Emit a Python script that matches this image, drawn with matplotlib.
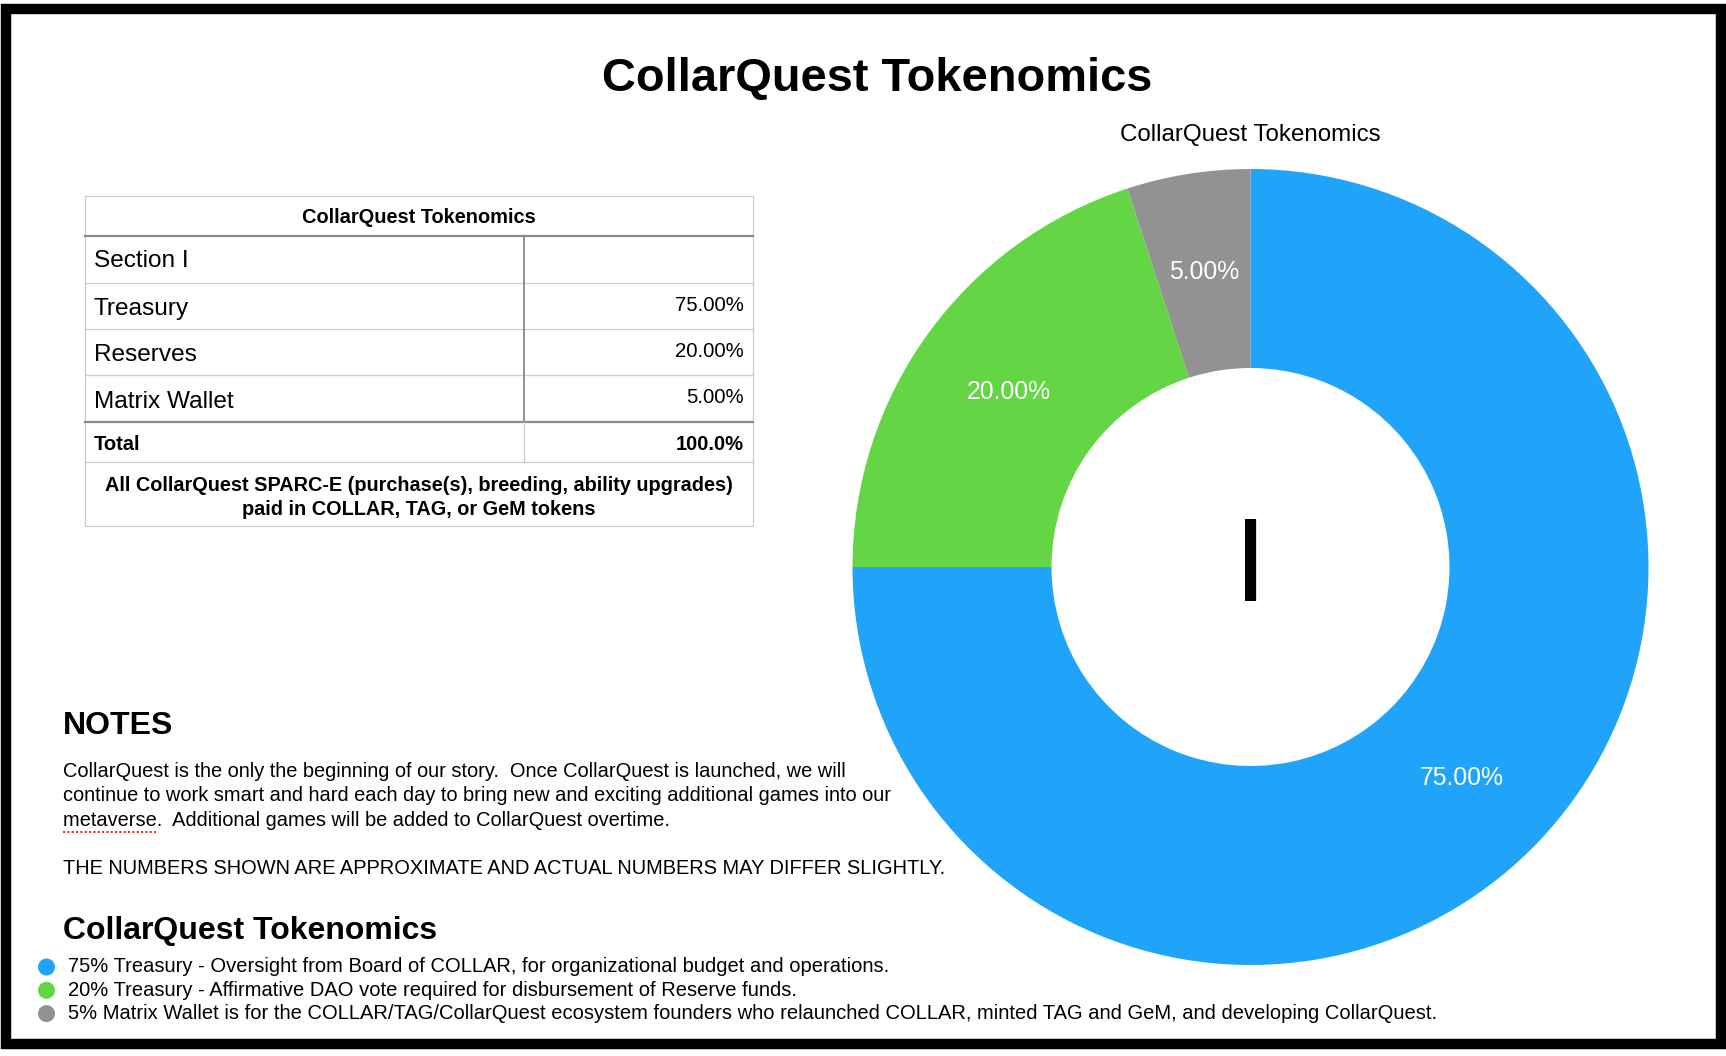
import numpy as np
import matplotlib.pyplot as plt
from matplotlib.patches import Rectangle

plt.rcParams['font.family'] = ['Liberation Sans', 'DejaVu Sans']

# Données
sections = ['Treasury', 'Reserves', 'Matrix Wallet']
shares = [75.0, 20.0, 5.0]
colors = ['#1fa4fa', '#64d645', '#929292']
chart_title = 'CollarQuest Tokenomics'
center_label = 'I'
footer_lines = ['All CollarQuest SPARC-E (purchase(s), breeding, ability upgrades)',
                'paid in COLLAR, TAG, or GeM tokens']
notes_lines = ['CollarQuest is the only the beginning of our story.  Once CollarQuest is launched, we will',
               'continue to work smart and hard each day to bring new and exciting additional games into our',
               'metaverse.  Additional games will be added to CollarQuest overtime.',
               '',
               'THE NUMBERS SHOWN ARE APPROXIMATE AND ACTUAL NUMBERS MAY DIFFER SLIGHTLY.']
legend_lines = ['75% Treasury - Oversight from Board of COLLAR, for organizational budget and operations.',
                '20% Treasury - Affirmative DAO vote required for disbursement of Reserve funds.',
                '5% Matrix Wallet is for the COLLAR/TAG/CollarQuest ecosystem founders who relaunched COLLAR, minted TAG and GeM, and developing CollarQuest.']

W, H = 1726, 1056
fig = plt.figure(figsize=(W / 100, H / 100), dpi=100)
fig.patch.set_facecolor('white')

# Axe de fond en pixels
ax0 = fig.add_axes([0, 0, 1, 1])
ax0.set_xlim(0, W)
ax0.set_ylim(H, 0)
ax0.axis('off')

# Cadre noir
ax0.add_patch(Rectangle((6, 9), 1714.5, 1034.5, fill=False, ec='black', lw=7.5))

# Titre
ax0.text(877, 79, chart_title, ha='center', va='center', fontsize=33.8, fontweight='bold')

# Tableau
tl, tr, tc = 84.8, 753, 524
ty = [196, 235.6, 283, 329.1, 375.4, 421.6, 462.3, 526.2]
light, dark = '#cccccc', '#8a8a8a'
ax0.add_patch(Rectangle((tl, ty[0]), tr - tl, ty[-1] - ty[0], fill=False, ec=light, lw=0.9))
for y in [ty[2], ty[3], ty[4], ty[6]]:
    ax0.plot([tl, tr], [y, y], color=light, lw=0.9)
for y in [ty[1], ty[5]]:
    ax0.plot([tl, tr], [y, y], color=dark, lw=1.6)
ax0.plot([tc, tc], [ty[1], ty[5]], color=dark, lw=1.3)
ax0.plot([tc, tc], [ty[5], ty[6]], color=light, lw=0.9)

ax0.text((tl + tr) / 2, (ty[0] + ty[1]) / 2 + 2, chart_title, ha='center', va='center',
         fontsize=14.4, fontweight='bold')
ax0.text(tl + 9, (ty[1] + ty[2]) / 2 + 2, 'Section ' + center_label, ha='left', va='center',
         fontsize=17.6)
for i, (name, v) in enumerate(zip(sections, shares)):
    y0, y1 = ty[i + 2], ty[i + 3]
    ax0.text(tl + 9, (y0 + y1) / 2 + 3, name, ha='left', va='center', fontsize=17.6)
    ax0.text(tr - 9, (y0 + y1) / 2 - 1, f'{v:.2f}%', ha='right', va='center', fontsize=14.7)
ax0.text(tl + 9, (ty[5] + ty[6]) / 2 + 3, 'Total', ha='left', va='center', fontsize=14.5,
         fontweight='bold')
ax0.text(tr - 9, (ty[5] + ty[6]) / 2 + 3, f'{sum(shares):.1f}%', ha='right', va='center',
         fontsize=14.5, fontweight='bold')
for k, line in enumerate(footer_lines):
    ax0.text((tl + tr) / 2, 485.5 + k * 24.2, line, ha='center', va='center', fontsize=14.3,
             fontweight='bold')

# Notes
ax0.text(62.7, 726.5, 'NOTES', ha='left', va='center', fontsize=23, fontweight='bold')
for k, line in enumerate(notes_lines):
    ax0.text(62.7, 771.5 + k * 24.3, line, ha='left', va='center', fontsize=14.4)

# soulignement "metaverse"
fig.canvas.draw()
r = fig.canvas.get_renderer()
tmp = ax0.text(62.7, 771.5 + 2 * 24.3, 'metaverse', ha='left', va='center', fontsize=14.4, alpha=0)
bb = tmp.get_window_extent(renderer=r)
x0, x1 = bb.x0, bb.x1
yu = 771.5 + 2 * 24.3 + 12
ax0.plot([x0, x1], [yu, yu], color='#e02020', lw=1.3, ls=(0, (1.2, 1.2)))

# Légende
ax0.text(62.7, 930.5, chart_title, ha='left', va='center', fontsize=23, fontweight='bold')
for k, (line, c) in enumerate(zip(legend_lines, colors)):
    y = 967 + k * 23.3
    ax0.scatter([46.5], [y], s=150, color=c, edgecolors='none')
    ax0.text(68, y, line, ha='left', va='center', fontsize=14.5)

# Anneau
cx, cy, R = 1250.5, 567, 398
ax = fig.add_axes([(cx - R) / W, (H - cy - R) / H, 2 * R / W, 2 * R / H])
wedges, _, autotexts = ax.pie(shares, colors=colors, startangle=90, counterclock=False,
                              radius=1, autopct='%.2f%%', pctdistance=0.75,
                              wedgeprops=dict(width=0.5, edgecolor='none'),
                              textprops=dict(color='white', fontsize=17.8))
ax.set_xlim(-1, 1)
ax.set_ylim(-1, 1)
ax.set_aspect('equal')
ax.axis('off')
ax.text(0, -0.01, center_label, ha='center', va='center', fontsize=86, color='black')

fig.text(1250 / W, 1 - 135 / H, chart_title, ha='center', va='center', fontsize=17.4)

fig.savefig('out.png', dpi=100)
